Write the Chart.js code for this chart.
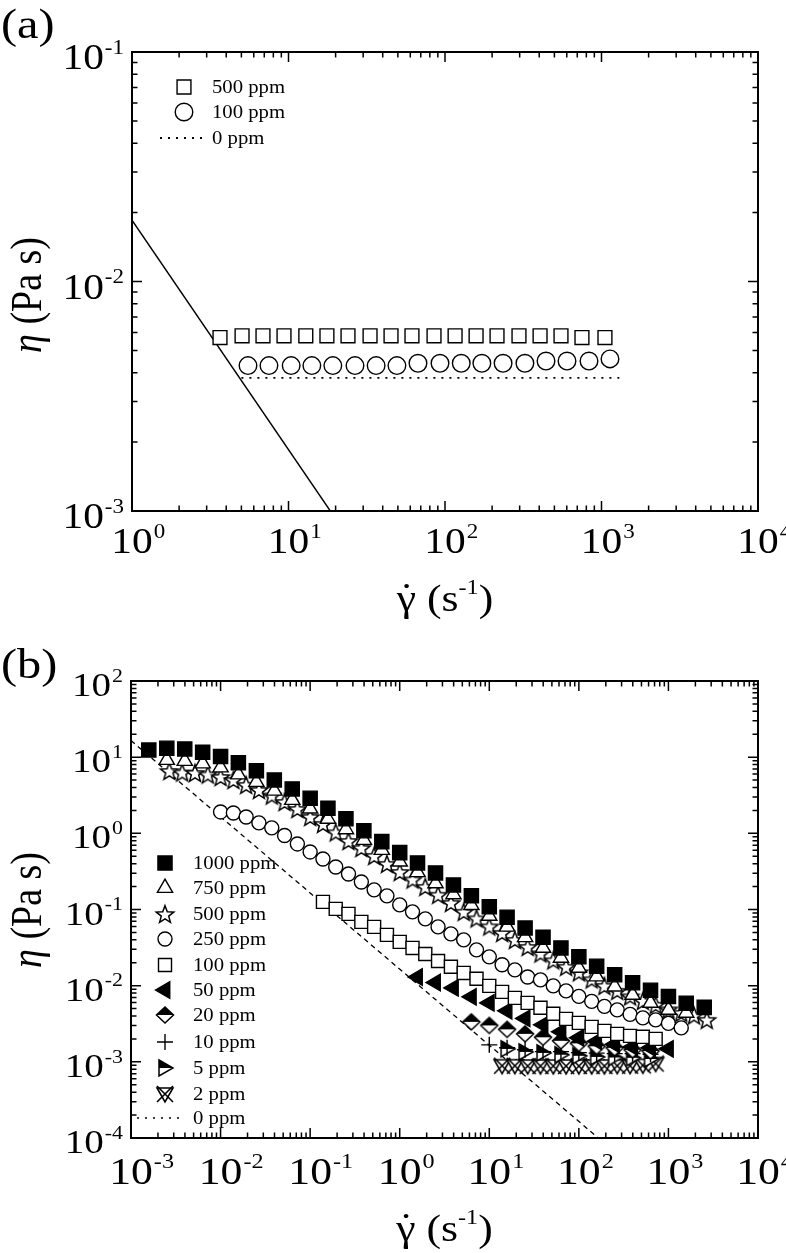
<!DOCTYPE html>
<html>
<head>
<meta charset="utf-8">
<script src="https://cdn.jsdelivr.net/npm/chart.js@4.4.0/dist/chart.umd.min.js"></script>
<style>
  body { margin: 0; background: #fff; }
  #wrap { position: relative; width: 786px; height: 1253px; }
  canvas { position: absolute; left: 0; }
  #chartA { top: 0; }
  #chartB { top: 625px; }
</style>
</head>
<body>
<div id="wrap">
  <canvas id="chartA" width="786" height="625"></canvas>
  <canvas id="chartB" width="786" height="628"></canvas>
</div>
<script>
// ---- panel (a) data ----
const aX500 = [3.65, 5.05, 6.87, 9.36, 12.9, 17.6, 24.0, 33.2, 45.2, 61.5, 85.1, 116, 158, 215, 297, 405, 551, 750, 1052];
const aEta500 = [0.0057, 0.0058, 0.0058, 0.0058, 0.0058, 0.0058, 0.0058, 0.0058, 0.0058, 0.0058, 0.0058, 0.0058, 0.0058, 0.0058, 0.0058, 0.0058, 0.0058, 0.0057, 0.0057];
const aX100 = [5.51, 7.50, 10.4, 14.1, 19.2, 26.6, 36.3, 49.3, 67.2, 92.9, 127, 172, 235, 324, 442, 602, 832, 1133];
const aEta100 = [0.0043, 0.0043, 0.0043, 0.0043, 0.0043, 0.0043, 0.0043, 0.0043, 0.0044, 0.0044, 0.0044, 0.0044, 0.0044, 0.0044, 0.0045, 0.0045, 0.0045, 0.0046];
const aX0 = [5, 1300];
const aEta0 = [0.0038, 0.0038];
const aXLimit = [1, 18.5];
const aEtaLimit = [0.0185, 0.001];
const aXTickExp = [0, 1, 2, 3, 4];
const aYTickExp = [-3, -2, -1];

// ---- panel (b) data ----
const bX1000 = [0.00158, 0.00251, 0.00398, 0.00631, 0.01, 0.0158, 0.0251, 0.0398, 0.0631, 0.1, 0.158, 0.251, 0.398, 0.631, 1, 1.58, 2.51, 3.98, 6.31, 10, 15.8, 25.1, 39.8, 63.1, 100, 158, 251, 398, 631, 1000, 1580, 2510];
const bEta1000 = [12.4, 13.1, 12.8, 11.6, 10.2, 8.47, 6.65, 5.02, 3.83, 2.89, 2.13, 1.55, 1.08, 0.778, 0.558, 0.409, 0.302, 0.210, 0.152, 0.109, 0.0792, 0.0570, 0.0431, 0.0313, 0.0239, 0.0180, 0.0139, 0.0109, 0.00871, 0.00720, 0.00589, 0.00519];
const bX750 = [0.00251, 0.00398, 0.00631, 0.01, 0.0158, 0.0251, 0.0398, 0.0631, 0.1, 0.158, 0.251, 0.398, 0.631, 1, 1.58, 2.51, 3.98, 6.31, 10, 15.8, 25.1, 39.8, 63.1, 100, 158, 251, 398, 631, 1000, 1580];
const bEta750 = [9.18, 8.91, 8.26, 7.32, 5.93, 4.73, 3.63, 2.74, 2.11, 1.55, 1.13, 0.818, 0.605, 0.425, 0.309, 0.220, 0.158, 0.114, 0.0824, 0.0594, 0.0433, 0.0313, 0.0232, 0.0171, 0.0132, 0.00973, 0.00757, 0.00594, 0.00481, 0.00440];
const bX500 = [0.00268, 0.00373, 0.00518, 0.0072, 0.01, 0.0139, 0.0193, 0.0268, 0.0373, 0.0518, 0.072, 0.1, 0.139, 0.193, 0.268, 0.373, 0.518, 0.72, 1, 1.39, 1.93, 2.68, 3.73, 5.18, 7.2, 10, 13.9, 19.3, 26.8, 37.3, 51.8, 72, 100, 139, 193, 268, 373, 518, 720, 1000, 1390, 1930, 2680];
const bEta500 = [6.59, 6.30, 6.21, 5.93, 5.50, 5.02, 4.32, 3.71, 3.14, 2.58, 2.09, 1.64, 1.33, 1.03, 0.794, 0.643, 0.505, 0.397, 0.311, 0.248, 0.198, 0.156, 0.122, 0.0931, 0.0764, 0.0600, 0.0493, 0.0399, 0.0323, 0.0265, 0.0215, 0.0177, 0.0150, 0.0121, 0.00994, 0.00855, 0.00724, 0.00632, 0.00560, 0.00489, 0.00440, 0.00407, 0.00356];
const bX250 = [0.01, 0.0139, 0.0193, 0.0268, 0.0373, 0.0518, 0.072, 0.1, 0.139, 0.193, 0.268, 0.373, 0.518, 0.72, 1, 1.39, 1.93, 2.68, 3.73, 5.18, 7.2, 10, 13.9, 19.3, 26.8, 37.3, 51.8, 72, 100, 139, 193, 268, 373, 518, 720, 1000, 1390];
const bEta250 = [1.91, 1.85, 1.64, 1.37, 1.18, 0.938, 0.726, 0.570, 0.461, 0.362, 0.293, 0.230, 0.181, 0.151, 0.115, 0.0931, 0.0754, 0.0591, 0.0479, 0.0399, 0.0295, 0.0239, 0.0188, 0.0161, 0.0130, 0.0119, 0.00994, 0.00855, 0.00724, 0.00622, 0.00535, 0.00481, 0.00420, 0.00378, 0.00356, 0.00320, 0.00279];
const bX100 = [0.139, 0.193, 0.268, 0.373, 0.518, 0.72, 1, 1.39, 1.93, 2.68, 3.73, 5.18, 7.2, 10, 13.9, 19.3, 26.8, 37.3, 51.8, 72, 100, 139, 193, 268, 373, 518, 720];
const bEta100 = [0.126, 0.102, 0.0875, 0.0687, 0.0591, 0.0464, 0.0376, 0.0313, 0.0261, 0.0211, 0.0177, 0.0147, 0.0123, 0.00994, 0.00829, 0.00692, 0.00594, 0.00512, 0.00427, 0.00366, 0.00325, 0.00288, 0.00255, 0.00233, 0.00219, 0.00213, 0.00200];
const bX50 = [1.58, 2.51, 3.98, 6.31, 10, 15.8, 25.1, 39.8, 63.1, 100, 158, 251, 398, 631, 1000];
const bEta50 = [0.0130, 0.0110, 0.00935, 0.00713, 0.00594, 0.00467, 0.00372, 0.00306, 0.00248, 0.00207, 0.00186, 0.00170, 0.00157, 0.00153, 0.00148];
const bX20 = [6.31, 10, 15.8, 25.1, 39.8, 63.1, 100, 158, 251, 398, 631];
const bEta20 = [0.00335, 0.00301, 0.00267, 0.00233, 0.00210, 0.00189, 0.00175, 0.00160, 0.00153, 0.00144, 0.00139];
const bX10 = [10, 15.8, 25.1, 39.8, 63.1, 100, 158, 251, 398, 631];
const bEta10 = [0.00167, 0.00153, 0.00144, 0.00136, 0.00136, 0.00132, 0.00130, 0.00128, 0.00128, 0.00126];
const bX5 = [15.8, 25.1, 39.8, 63.1, 100, 158, 251, 398, 631];
const bEta5 = [0.00148, 0.00135, 0.00131, 0.00124, 0.00120, 0.00116, 0.00114, 0.00113, 0.00109];
const bX2 = [13.9, 19.3, 26.8, 37.3, 51.8, 72, 100, 139, 193, 268, 373, 518, 720];
const bEta2 = [0.00089, 0.00089, 0.00088, 0.00088, 0.00088, 0.00088, 0.00088, 0.00088, 0.00088, 0.00089, 0.00089, 0.00090, 0.00095];
const bX0 = [15.8, 631];
const bEta0 = [0.00106, 0.00106];
const bXLimit = [0.001, 165];
const bEtaLimit = [16.5, 0.0001];
const bXTickExp = [-3, -2, -1, 0, 1, 2, 3, 4];
const bYTickExp = [-4, -3, -2, -1, 0, 1, 2];

const SERIF = '"Liberation Serif", "Times New Roman", serif';
const STRETCH = 1.15;

function zip(xs, ys) {
  return xs.map((x, i) => ({ x: x, y: ys[i] }));
}

// custom marker images
function makeMarker(size, draw) {
  const c = document.createElement('canvas');
  c.width = size; c.height = size;
  const g = c.getContext('2d');
  g.translate(size / 2, size / 2);
  g.lineWidth = 1.5;
  g.strokeStyle = '#000';
  g.fillStyle = '#fff';
  g.lineJoin = 'miter';
  draw(g);
  return c;
}
const starMarker = makeMarker(24, g => {
  g.beginPath();
  for (let i = 0; i < 10; i++) {
    const r = i % 2 ? 3.9 : 9.2;
    const t = -Math.PI / 2 + i * Math.PI / 5;
    g.lineTo(r * Math.cos(t), r * Math.sin(t) + 0.9);
  }
  g.closePath(); g.fill(); g.stroke();
});
const halfDiamond = makeMarker(22, g => {
  g.beginPath(); g.moveTo(0, -8); g.lineTo(8.5, 0); g.lineTo(0, 8); g.lineTo(-8.5, 0); g.closePath();
  g.fill();
  g.fillStyle = '#000';
  g.beginPath(); g.moveTo(0, -8); g.lineTo(8.5, 0); g.lineTo(-8.5, 0); g.closePath(); g.fill();
  g.beginPath(); g.moveTo(0, -8); g.lineTo(8.5, 0); g.lineTo(0, 8); g.lineTo(-8.5, 0); g.closePath();
  g.stroke();
});
const halfRightTri = makeMarker(22, g => {
  g.beginPath(); g.moveTo(-6, -8); g.lineTo(8, 0); g.lineTo(-6, 8); g.closePath(); g.fill();
  g.fillStyle = '#000';
  g.beginPath(); g.moveTo(-6, -8); g.lineTo(8, 0); g.lineTo(-6, 0); g.closePath(); g.fill();
  g.beginPath(); g.moveTo(-6, -8); g.lineTo(8, 0); g.lineTo(-6, 8); g.closePath(); g.stroke();
});
const crossTri = makeMarker(22, g => {
  g.lineWidth = 1.6;
  g.beginPath(); g.moveTo(-8, -6); g.lineTo(8, -6); g.lineTo(0, 8); g.closePath(); g.fill(); g.stroke();
  g.beginPath(); g.moveTo(-8, -8); g.lineTo(8, 8); g.moveTo(8, -8); g.lineTo(-8, 8); g.stroke();
});

function markerSet(label, xs, ys, style, radius, fill, rotation) {
  return {
    label: label,
    data: zip(xs, ys),
    showLine: false,
    pointStyle: style,
    pointRadius: radius,
    pointRotation: rotation || 0,
    pointBackgroundColor: fill,
    pointBorderColor: '#000',
    pointBorderWidth: 1.4
  };
}
function lineSet(label, xs, ys, dash, width) {
  return {
    label: label,
    data: zip(xs, ys),
    showLine: true,
    borderColor: '#000',
    borderWidth: width,
    borderDash: dash,
    pointRadius: 0
  };
}

// text helpers
function stretchText(ctx, str, x, y, font) {
  ctx.save();
  ctx.font = font;
  ctx.translate(x, y);
  ctx.scale(STRETCH, 1);
  ctx.fillText(str, 0, 0);
  ctx.restore();
}
function textWidth(ctx, str, font) {
  ctx.save(); ctx.font = font;
  const w = ctx.measureText(str).width * STRETCH;
  ctx.restore();
  return w;
}
function powLabel(ctx, exp, x, base, big, small, align) {
  const fb = big + 'px ' + SERIF, fs = small + 'px ' + SERIF;
  const s = String(exp);
  const w1 = textWidth(ctx, '10', fb), w2 = textWidth(ctx, s, fs);
  const x0 = align === 'right' ? x - w1 - w2 - 1 : x - w1 / 2;
  stretchText(ctx, '10', x0, base, fb);
  stretchText(ctx, s, x0 + w1 + 1, base - big * 0.42, fs);
}

const figurePlugin = {
  id: 'figure',
  afterDatasetsDraw(chart, args, o) {
    const ctx = chart.ctx, a = chart.chartArea;
    const xs = chart.scales.x, ys = chart.scales.y;
    ctx.save();
    ctx.strokeStyle = '#000';
    ctx.lineWidth = 1.5;
    ctx.setLineDash([]);
    ctx.beginPath();
    o.xExp.forEach((e, i) => {
      for (let m = 1; m < 10; m++) {
        if (i === o.xExp.length - 1 && m > 1) break;
        const px = xs.getPixelForValue(m * Math.pow(10, e));
        const len = m === 1 ? 10 : 5.5;
        ctx.moveTo(px, a.bottom); ctx.lineTo(px, a.bottom - len);
        ctx.moveTo(px, a.top); ctx.lineTo(px, a.top + len);
      }
    });
    o.yExp.forEach((e, i) => {
      for (let m = 1; m < 10; m++) {
        if (i === o.yExp.length - 1 && m > 1) break;
        const py = ys.getPixelForValue(m * Math.pow(10, e));
        const len = m === 1 ? 10 : 5.5;
        ctx.moveTo(a.left, py); ctx.lineTo(a.left + len, py);
        ctx.moveTo(a.right, py); ctx.lineTo(a.right - len, py);
      }
    });
    ctx.stroke();
    ctx.lineWidth = 2;
    ctx.strokeRect(a.left, a.top, a.right - a.left, a.bottom - a.top);
    ctx.restore();
  },
  afterDraw(chart, args, o) {
    const ctx = chart.ctx, a = chart.chartArea;
    const xs = chart.scales.x, ys = chart.scales.y;
    ctx.save();
    ctx.fillStyle = '#000';
    ctx.textBaseline = 'alphabetic';
    ctx.textAlign = 'left';
    // tick labels
    o.xExp.forEach(e => {
      powLabel(ctx, e, xs.getPixelForValue(Math.pow(10, e)), a.bottom + o.xLabelDy, o.xBig, o.xSmall, 'center');
    });
    o.yExp.forEach(e => {
      powLabel(ctx, e, a.left - 8, ys.getPixelForValue(Math.pow(10, e)) + o.yLabelDy, o.yBig, o.ySmall, 'right');
    });
    // y title
    ctx.save();
    ctx.translate(o.yTitleX, o.yTitleY);
    ctx.rotate(-Math.PI / 2);
    ctx.scale(1, STRETCH);
    const fi = 'italic ' + o.titleSize + 'px ' + SERIF, fn = o.titleSize + 'px ' + SERIF;
    ctx.font = fi; const w1 = ctx.measureText('\u03B7').width;
    ctx.font = fn; const w2 = ctx.measureText(' (Pa s)').width;
    ctx.font = fi; ctx.fillText('\u03B7', -(w1 + w2) / 2, 0);
    ctx.font = fn; ctx.fillText(' (Pa s)', -(w1 + w2) / 2 + w1, 0);
    ctx.restore();
    // x title
    const fsup = Math.round(o.titleSize * 0.55) + 'px ' + SERIF;
    const p1 = textWidth(ctx, '\u03B3 (s', fn), p2 = textWidth(ctx, '-1', fsup), p3 = textWidth(ctx, ')', fn);
    const gw = textWidth(ctx, '\u03B3', fn);
    const tx = (a.left + a.right) / 2 - (p1 + p2 + p3) / 2;
    const tb = o.xTitleY;
    stretchText(ctx, '\u03B3 (s', tx, tb, fn);
    ctx.save();
    ctx.font = fn; ctx.textAlign = 'center';
    ctx.translate(tx + gw / 2, tb - 2); ctx.scale(STRETCH, 1);
    ctx.fillText('\u02D9', 0, 0);
    ctx.restore();
    stretchText(ctx, '-1', tx + p1, tb - o.titleSize * 0.45, fsup);
    stretchText(ctx, ')', tx + p1 + p2, tb, fn);
    // panel label
    stretchText(ctx, o.panel, 1, o.panelY, o.panelSize + 'px ' + SERIF);
    // legend
    const lf = o.legendSize + 'px ' + SERIF;
    o.legend.forEach(item => {
      const ds = chart.data.datasets[item.ds];
      if (ds.showLine) {
        ctx.save();
        ctx.strokeStyle = '#000';
        ctx.lineWidth = ds.borderWidth;
        ctx.setLineDash(ds.borderDash || []);
        ctx.beginPath();
        ctx.moveTo(item.x0, item.y); ctx.lineTo(item.x1, item.y);
        ctx.stroke();
        ctx.restore();
      } else {
        ctx.save();
        ctx.fillStyle = ds.pointBackgroundColor;
        ctx.strokeStyle = ds.pointBorderColor;
        ctx.lineWidth = ds.pointBorderWidth;
        Chart.helpers.drawPoint(ctx, {
          pointStyle: ds.pointStyle, radius: ds.pointRadius,
          rotation: ds.pointRotation, borderWidth: ds.pointBorderWidth
        }, item.mx, item.y);
        ctx.restore();
      }
      stretchText(ctx, ds.label, o.legendTextX, item.y + o.legendSize * 0.34, lf);
    });
    ctx.restore();
  }
};

function baseOptions(pad, xRange, yRange, fig) {
  return {
    responsive: false,
    devicePixelRatio: 1,
    animation: false,
    events: [],
    layout: { padding: pad },
    scales: {
      x: { type: 'logarithmic', min: xRange[0], max: xRange[1], display: false },
      y: { type: 'logarithmic', min: yRange[0], max: yRange[1], display: false }
    },
    plugins: { legend: { display: false }, tooltip: { enabled: false }, figure: fig }
  };
}

new Chart(document.getElementById('chartA'), {
  type: 'scatter',
  data: {
    datasets: [
      markerSet('500 ppm', aX500, aEta500, 'rect', 9.8, '#fff'),
      markerSet('100 ppm', aX100, aEta100, 'circle', 8.8, '#fff'),
      lineSet('0 ppm', aX0, aEta0, [2, 6], 1.8),
      lineSet('limit', aXLimit, aEtaLimit, [], 1.4)
    ]
  },
  options: baseOptions({ left: 132, right: 28, top: 52, bottom: 114 }, [1, 1e4], [1e-3, 1e-1], {
    xExp: aXTickExp, yExp: aYTickExp,
    xBig: 36, xSmall: 20, xLabelDy: 42, yBig: 36, ySmall: 20, yLabelDy: 17,
    titleSize: 38, yTitleX: 41, yTitleY: 295, xTitleY: 611,
    panel: '(a)', panelY: 38, panelSize: 42,
    legendSize: 18, legendTextX: 212,
    legend: [
      { ds: 0, mx: 184, y: 87 },
      { ds: 1, mx: 184, y: 112 },
      { ds: 2, x0: 160, x1: 202, y: 138 }
    ]
  }),
  plugins: [figurePlugin]
});

new Chart(document.getElementById('chartB'), {
  type: 'scatter',
  data: {
    datasets: [
      markerSet('1000 ppm', bX1000, bEta1000, 'rect', 10, '#000'),
      markerSet('750 ppm', bX750, bEta750, 'triangle', 8.8, '#fff'),
      markerSet('500 ppm', bX500, bEta500, starMarker, 8, '#fff'),
      markerSet('250 ppm', bX250, bEta250, 'circle', 7, '#fff'),
      markerSet('100 ppm', bX100, bEta100, 'rect', 9.2, '#fff'),
      markerSet('50 ppm', bX50, bEta50, 'triangle', 9.5, '#000', -90),
      markerSet('20 ppm', bX20, bEta20, halfDiamond, 8, '#fff'),
      markerSet('10 ppm', bX10, bEta10, 'cross', 8, '#000'),
      markerSet('5 ppm', bX5, bEta5, halfRightTri, 8, '#fff'),
      markerSet('2 ppm', bX2, bEta2, crossTri, 8, '#fff'),
      lineSet('0 ppm', bX0, bEta0, [2, 6], 1.5),
      lineSet('limit', bXLimit, bEtaLimit, [5, 4], 1.3)
    ]
  },
  options: baseOptions({ left: 131, right: 28, top: 56, bottom: 115 }, [1e-3, 1e4], [1e-4, 1e2], {
    xExp: bXTickExp, yExp: bYTickExp,
    xBig: 38, xSmall: 21, xLabelDy: 46, yBig: 34, ySmall: 19, yLabelDy: 15,
    titleSize: 38, yTitleX: 41, yTitleY: 285, xTitleY: 616,
    panel: '(b)', panelY: 53, panelSize: 42,
    legendSize: 18, legendTextX: 193,
    legend: [
      { ds: 0, mx: 165, y: 238 },
      { ds: 1, mx: 165, y: 263 },
      { ds: 2, mx: 165, y: 289 },
      { ds: 3, mx: 165, y: 314 },
      { ds: 4, mx: 165, y: 340 },
      { ds: 5, mx: 165, y: 365 },
      { ds: 6, mx: 165, y: 390 },
      { ds: 7, mx: 165, y: 417 },
      { ds: 8, mx: 165, y: 443 },
      { ds: 9, mx: 165, y: 469 },
      { ds: 10, x0: 137, x1: 183, y: 493 }
    ]
  }),
  plugins: [figurePlugin]
});
</script>
</body>
</html>
